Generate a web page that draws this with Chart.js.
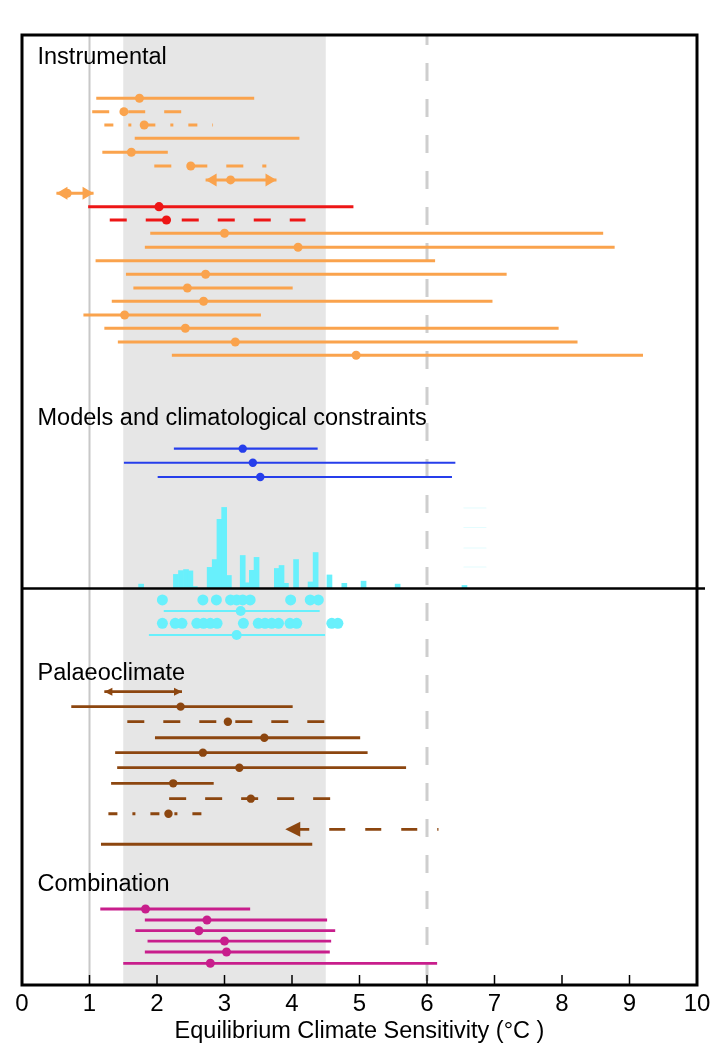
<!DOCTYPE html>
<html>
<head>
<meta charset="utf-8">
<script src="https://cdn.jsdelivr.net/npm/chart.js@4.4.1/dist/chart.umd.min.js"></script>
<style>
  html, body { margin: 0; padding: 0; background: #fff; }
  canvas { display: block; }
</style>
</head>
<body>
<canvas id="ecsChart" width="711" height="1052"></canvas>
<script>
// y positions are in "row" units (one instrumental row = 1), counted from the top
// x values are Equilibrium Climate Sensitivity in °C

// Instrumental (orange)
const instRows = [4.66, 5.65, 6.63, 7.61, 8.64, 9.65, 10.68, 11.66, 14.61, 15.64, 16.63, 17.63, 18.64, 19.62, 20.63, 21.61, 22.62, 23.60];
const instLow  = [1.10, 1.04, 1.22, 1.67, 1.19, 1.96, 2.72, 0.51, 1.90, 1.82, 1.09, 1.54, 1.65, 1.33, 0.91, 1.22, 1.42, 2.22];
const instBest = [1.74, 1.51, 1.81, null, 1.62, 2.50, 3.09, 0.67, 3.00, 4.09, null, 2.72, 2.45, 2.69, 1.52, 2.42, 3.16, 4.95];
const instHigh = [3.44, 2.36, 2.83, 4.11, 2.16, 3.62, 3.77, 1.06, 8.61, 8.78, 6.12, 7.18, 4.01, 6.97, 3.54, 7.95, 8.23, 9.20];
const instStyle = ["solid", "dash", "dashdot", "solid", "solid", "dash", "both", "both", "solid", "solid",
  "solid", "solid", "solid", "solid", "solid", "solid", "solid", "solid"];

// Instrumental, highlighted (red)
const redRows = [12.65, 13.63];
const redLow  = [0.98, 1.30];
const redBest = [2.03, 2.14];
const redHigh = [4.91, 4.20];
const redStyle = ["solid", "dash"];

// Models and climatological constraints (blue)
const modelRows = [30.48, 31.52, 32.57];
const modelLow  = [2.25, 1.51, 2.01];
const modelBest = [3.27, 3.42, 3.53];
const modelHigh = [4.38, 6.42, 6.37];

// model histogram (cyan), relative frequency
const histBins = [1.765, 2.28, 2.355, 2.43, 2.495, 2.56, 2.78, 2.855, 2.925, 2.995, 3.065, 3.27, 3.34, 3.405,
  3.475, 3.775, 3.845, 3.91, 4.06, 4.275, 4.35, 4.555, 4.775, 5.06, 5.565, 6.555];
const histFreq = [1.6, 5.2, 6.6, 7.0, 6.5, 0.7, 7.8, 10.7, 25.6, 30.0, 4.8, 12.2, 2.1, 6.7,
  11.5, 7.4, 8.5, 1.9, 10.7, 2.4, 13.3, 5.0, 1.9, 2.7, 1.6, 1.1];
const histBase = 40.78;
const faintRows = [34.85, 36.29, 37.80, 39.20];
const faintLow = [6.54, 6.54, 6.54, 6.54];
const faintHigh = [6.88, 6.88, 6.88, 6.88];

// individual model values (cyan dots) and their ranges
const dotRowA = 41.63;
const dotValuesA = [2.08, 2.68, 2.88, 3.09, 3.18, 3.27, 3.38, 3.98, 4.27, 4.39];
const dotRowB = 43.35;
const dotValuesB = [2.08, 2.27, 2.37, 2.59, 2.69, 2.79, 2.89, 3.28, 3.50, 3.60, 3.70, 3.80, 3.97, 4.07, 4.59, 4.68];
const cyanRows = [42.44, 44.21];
const cyanLow  = [2.10, 1.88];
const cyanBest = [3.24, 3.18];
const cyanHigh = [4.41, 4.49];

// Palaeoclimate (brown)
const palRows = [48.39, 49.49, 50.60, 51.78, 52.88, 53.99, 55.14, 56.27, 57.38, 58.53, 59.63];
const palLow  = [1.22, 0.73, 1.56, 1.97, 1.38, 1.41, 1.32, 2.18, 1.28, 3.90, 1.17];
const palBest = [null, 2.35, 3.05, 3.59, 2.68, 3.22, 2.24, 3.39, 2.17, null, null];
const palHigh = [2.37, 4.01, 4.50, 5.01, 5.12, 5.69, 2.84, 4.59, 2.67, 6.17, 4.30];
const palStyle = ["both", "solid", "dash", "solid", "solid", "solid", "solid", "dash", "dashdot", "leftdash", "solid"];

// Combination (magenta)
const comboRows = [64.40, 65.21, 66.00, 66.76, 67.57, 68.40];
const comboLow  = [1.16, 1.82, 1.68, 1.86, 1.82, 1.50];
const comboBest = [1.83, 2.74, 2.62, 3.00, 3.03, 2.79];
const comboHigh = [3.38, 4.52, 4.64, 4.58, 4.56, 6.15];

const groupLabels = ["Instrumental", "Models and climatological constraints", "Palaeoclimate", "Combination"];
const groupLabelRows = [2.14, 28.74, 47.53, 63.05];
const xTicks = [0, 1, 2, 3, 4, 5, 6, 7, 8, 9, 10];

const likelyRange = [1.5, 4.5];

const ORANGE = "rgb(250,163,77)";
const RED = "rgb(237,22,22)";
const BLUE = "rgb(38,62,235)";
const CYAN = "rgb(104,240,252)";
const BROWN = "rgb(140,70,15)";
const PINK = "rgb(200,30,140)";
const FONT = "'Liberation Sans', Arial, sans-serif";

function dashFor(style) {
  if (style === "dash") return [17, 19];
  if (style === "dashdot") return [9, 15, 3, 15];
  if (style === "leftdash") return [16, 20];
  return [];
}

const arrowHeads = [];

function rangeSets(rows, low, high, styles, color, width, heads) {
  return rows.map((row, i) => {
    const style = styles ? styles[i] : "solid";
    if (style === "both" || style === "leftdash") {
      const size = heads[style];
      arrowHeads.push({ x: low[i], y: row, dir: -1, color, len: size[0], half: size[1] });
      if (style === "both") arrowHeads.push({ x: high[i], y: row, dir: 1, color, len: size[0], half: size[1] });
    }
    return {
      type: "scatter",
      showLine: true,
      data: [{ x: low[i], y: row }, { x: high[i], y: row }],
      borderColor: color,
      borderWidth: width,
      borderDash: dashFor(style),
      borderDashOffset: style === "leftdash" ? 28 : 0,
      borderCapStyle: "butt",
      pointRadius: 0,
      order: 2,
    };
  });
}

function pointSet(rows, best, color, radius) {
  const pts = [];
  rows.forEach((row, i) => { if (best[i] !== null) pts.push({ x: best[i], y: row }); });
  return {
    type: "scatter",
    data: pts,
    backgroundColor: color,
    borderWidth: 0,
    pointRadius: radius,
    order: 1,
  };
}

const histScale = 0.199; // rows per frequency unit

const datasets = [].concat(
  rangeSets(instRows, instLow, instHigh, instStyle, ORANGE, 3, { both: [11, 6.5] }),
  [pointSet(instRows, instBest, ORANGE, 4.5)],
  rangeSets(redRows, redLow, redHigh, redStyle, RED, 3, {}),
  [pointSet(redRows, redBest, RED, 4.6)],
  rangeSets(modelRows, modelLow, modelHigh, null, BLUE, 2.2, {}),
  [pointSet(modelRows, modelBest, BLUE, 4.2)],
  rangeSets(faintRows, faintLow, faintHigh, null, "rgba(104,240,252,0.18)", 1, {}),
  [{
    type: "bar",
    data: histBins.map((b, i) => ({ x: b, y: [histBase, histBase - histFreq[i] * histScale] })),
    backgroundColor: CYAN,
    borderWidth: 0,
    barThickness: 5,
    order: 3,
  }],
  rangeSets(cyanRows, cyanLow, cyanHigh, null, CYAN, 2, {}),
  [pointSet(cyanRows, cyanBest, CYAN, 5)],
  [pointSet(dotValuesA.map(() => dotRowA), dotValuesA, CYAN, 5.5)],
  [pointSet(dotValuesB.map(() => dotRowB), dotValuesB, CYAN, 5.5)],
  rangeSets(palRows, palLow, palHigh, palStyle, BROWN, 2.8, { both: [8, 4], leftdash: [15, 7.5] }),
  [pointSet(palRows, palBest, BROWN, 4.2)],
  rangeSets(comboRows, comboLow, comboHigh, null, PINK, 2.8, {}),
  [pointSet(comboRows, comboBest, PINK, 4.5)]
);

const backdrop = {
  id: "backdrop",
  beforeDatasetsDraw(chart) {
    const { ctx, chartArea: a, scales: { x } } = chart;
    ctx.save();
    ctx.fillStyle = "rgb(230,230,230)";
    const x0 = x.getPixelForValue(likelyRange[0]);
    const x1 = x.getPixelForValue(likelyRange[1]);
    ctx.fillRect(x0, a.top, x1 - x0, a.bottom - a.top);

    ctx.strokeStyle = "rgb(200,200,200)";
    ctx.lineWidth = 2;
    ctx.beginPath();
    ctx.moveTo(x.getPixelForValue(1), a.top);
    ctx.lineTo(x.getPixelForValue(1), a.bottom);
    ctx.stroke();

    ctx.strokeStyle = "rgb(206,206,206)";
    ctx.lineWidth = 3;
    ctx.setLineDash([18, 18]);
    ctx.lineDashOffset = 8;
    ctx.beginPath();
    ctx.moveTo(x.getPixelForValue(6), a.top);
    ctx.lineTo(x.getPixelForValue(6), a.bottom);
    ctx.stroke();
    ctx.restore();
  },
  afterDatasetsDraw(chart) {
    const { ctx, chartArea: a, scales: { x, y } } = chart;
    ctx.save();
    // arrow heads
    arrowHeads.forEach((h) => {
      const px = x.getPixelForValue(h.x);
      const py = y.getPixelForValue(h.y);
      ctx.fillStyle = h.color;
      ctx.beginPath();
      ctx.moveTo(px, py);
      ctx.lineTo(px - h.dir * h.len, py - h.half);
      ctx.lineTo(px - h.dir * h.len, py + h.half);
      ctx.closePath();
      ctx.fill();
    });

    // frame
    ctx.strokeStyle = "#000";
    ctx.lineWidth = 3;
    ctx.strokeRect(a.left, a.top, a.right - a.left, a.bottom - a.top);

    // divider between models and palaeo
    const yd = y.getPixelForValue(histBase);
    ctx.lineWidth = 2.5;
    ctx.beginPath();
    ctx.moveTo(a.left, yd);
    ctx.lineTo(a.right + 8, yd);
    ctx.stroke();

    // inward ticks
    ctx.lineWidth = 1.5;
    xTicks.forEach((t) => {
      const px = x.getPixelForValue(t);
      ctx.beginPath();
      ctx.moveTo(px, a.bottom);
      ctx.lineTo(px, a.bottom - 10);
      ctx.stroke();
    });

    // group labels
    ctx.fillStyle = "#000";
    ctx.font = "23.5px " + FONT;
    ctx.textBaseline = "alphabetic";
    ctx.textAlign = "left";
    groupLabels.forEach((t, i) => {
      ctx.fillText(t, x.getPixelForValue(0.23), y.getPixelForValue(groupLabelRows[i]));
    });
    ctx.restore();
  },
};

new Chart(document.getElementById("ecsChart").getContext("2d"), {
  type: "scatter",
  data: { datasets },
  options: {
    responsive: false,
    animation: false,
    events: [],
    layout: { padding: { left: 22, right: 14, top: 35, bottom: 0 } },
    plugins: { legend: { display: false }, tooltip: { enabled: false } },
    scales: {
      x: {
        type: "linear",
        min: 0,
        max: 10,
        offset: false,
        afterFit: (scale) => { scale.height = 67; },
        afterBuildTicks: (scale) => { scale.ticks = xTicks.map((v) => ({ value: v })); },
        grid: { display: false, drawTicks: false, offset: false },
        border: { display: false },
        ticks: {
          autoSkip: false,
          maxRotation: 0,
          padding: 0,
          color: "#000",
          font: { family: FONT, size: 24, lineHeight: 1.58 },
        },
        title: {
          display: true,
          text: "Equilibrium Climate Sensitivity (°C )",
          color: "#000",
          font: { family: FONT, size: 23.5 },
          padding: { top: 0, bottom: 6 },
        },
      },
      y: {
        type: "linear",
        display: false,
        reverse: true,
        min: 0,
        max: 70,
      },
    },
  },
  plugins: [backdrop],
});
</script>
</body>
</html>
